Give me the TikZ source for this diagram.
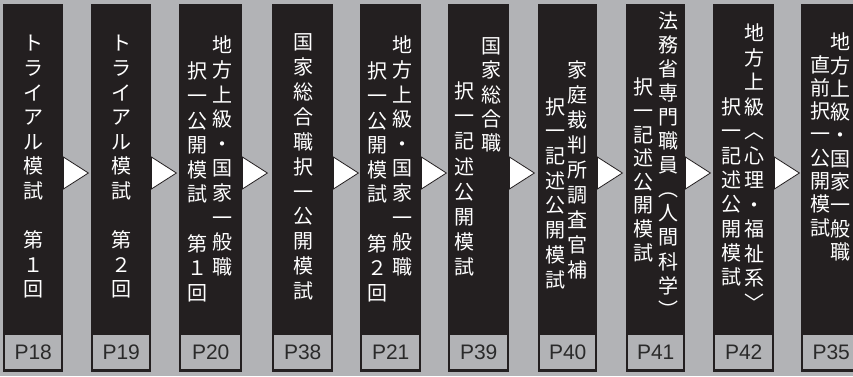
\documentclass[tikz,border=0pt]{standalone}
\usepackage{fontspec}
\setmainfont{Liberation Sans}
\newfontfamily\jp{Noto Sans CJK JP}
\usepackage{tikz}
\usetikzlibrary{positioning}

\definecolor{panelgray}{RGB}{178,179,182}
\definecolor{inkblack}{RGB}{35,31,32}
\definecolor{labelink}{RGB}{42,42,42}

\begin{document}
\begin{tikzpicture}[
        x=1pt, y=-1pt,
        stage/.style = {
            rectangle,
            fill=inkblack,
            minimum height=368pt,
            minimum width=60pt,
            inner sep=0pt,
            anchor=north west
        },
        page/.style = {
            rectangle,
            fill=panelgray,
            minimum height=34pt,
            minimum width=56pt,
            inner sep=0pt,
            text=labelink,
            font=\fontsize{21}{21}\selectfont
        },
        tate/.style = {
            align=center,
            inner sep=0pt,
            text=white,
            font=\jp\fontsize{20}{#1}\selectfont
        },
        tate/.default=24.5,
        pointer/.style = {
            draw=inkblack,
            fill=white,
            line width=0.8pt,
            line join=miter
        }
    ]
        \useasboundingbox (0,0) rectangle (853,376);
        \clip (0,0) rectangle (853,376);
        \fill[panelgray] (0,0) rectangle (853,376);

        % black stages, left to right
        \node [stage]                      (s1)  at (3,4)   {};
        \node [stage]                      (s2)  at (91,4)  {};
        \node [stage, minimum width=63pt]  (s3)  at (179,4) {};
        \node [stage, minimum width=61pt]  (s4)  at (272,4) {};
        \node [stage, minimum width=61pt]  (s5)  at (360,4) {};
        \node [stage, minimum width=61pt]  (s6)  at (448,4) {};
        \node [stage, minimum width=59pt]  (s7)  at (538,4) {};
        \node [stage, minimum width=59pt]  (s8)  at (626,4) {};
        \node [stage, minimum width=61pt]  (s9)  at (713,4) {};
        \node [stage]                      (s10) at (801,4) {};

        % page numbers
        \node [page, above=3pt of s1.south]                      (p1)  {P18};
        \node [page, above=3pt of s2.south]                      (p2)  {P19};
        \node [page, minimum width=59pt, above=3pt of s3.south]  (p3)  {P20};
        \node [page, minimum width=57pt, above=3pt of s4.south]  (p4)  {P38};
        \node [page, minimum width=57pt, above=3pt of s5.south]  (p5)  {P21};
        \node [page, minimum width=57pt, above=3pt of s6.south]  (p6)  {P39};
        \node [page, minimum width=55pt, above=3pt of s7.south]  (p7)  {P40};
        \node [page, minimum width=55pt, above=3pt of s8.south]  (p8)  {P41};
        \node [page, minimum width=57pt, above=3pt of s9.south]  (p9)  {P42};
        \node [page, above=3pt of s10.south]                     (p10) {P35};

        % vertical titles
        \node [tate=24.6] (t1)  at (33,167)  {ト\\ラ\\イ\\ア\\ル\\模\\試\\　\\第\\１\\回};
        \node [tate=24.6] (t2)  at (121,167) {ト\\ラ\\イ\\ア\\ル\\模\\試\\　\\第\\２\\回};
        \node [tate=24.6] (t3r) at (222,156) {地\\方\\上\\級\\・\\国\\家\\一\\般\\職};
        \node [tate=24.6] (t3l) at (197,182) {択\\一\\公\\開\\模\\試\\　\\第\\１\\回};
        \node [tate=24.9] (t4)  at (303,167) {国\\家\\総\\合\\職\\択\\一\\公\\開\\模\\試};
        \node [tate=24.6] (t5r) at (402,156) {地\\方\\上\\級\\・\\国\\家\\一\\般\\職};
        \node [tate=24.6] (t5l) at (377,182) {択\\一\\公\\開\\模\\試\\　\\第\\２\\回};
        \node [tate=24.3] (t6r) at (491,95)  {国\\家\\総\\合\\職};
        \node [tate=25.1] (t6l) at (464,179) {択\\一\\記\\述\\公\\開\\模\\試};
        \node [tate=25]   (t7r) at (577,170) {家\\庭\\裁\\判\\所\\調\\査\\官\\補};
        \node [tate=24.7] (t7l) at (555,193) {択\\一\\記\\述\\公\\開\\模\\試};
        \node [tate=24.1] (t8r) at (668,165) {法\\務\\省\\専\\門\\職\\員\\︵\\人\\間\\科\\学\\\vphantom{国}︶};
        \node [tate=23.6] (t8l) at (643,170) {択\\一\\記\\述\\公\\開\\模\\試};
        \node [tate=24.5] (t9r) at (754,168) {地\\方\\上\\級\\︿\\心\\理\\・\\福\\祉\\系\\\vphantom{国}﹀};
        \node [tate=24.3] (t9l) at (731,192) {択\\一\\記\\述\\公\\開\\模\\試};
        \node [tate=23.3] (t10r) at (840,147) {地\\方\\上\\級\\・\\国\\家\\一\\般\\職};
        \node [tate=23.3] (t10l) at (820,146) {直\\前\\択\\一\\公\\開\\模\\試};

        % white pointers between stages
        \foreach \i in {1,...,9}
            \draw [pointer] (s\i.east |- 0,157) -- ++(25,16) -- ++(-25,16) -- cycle;
    \end{tikzpicture}
\end{document}
